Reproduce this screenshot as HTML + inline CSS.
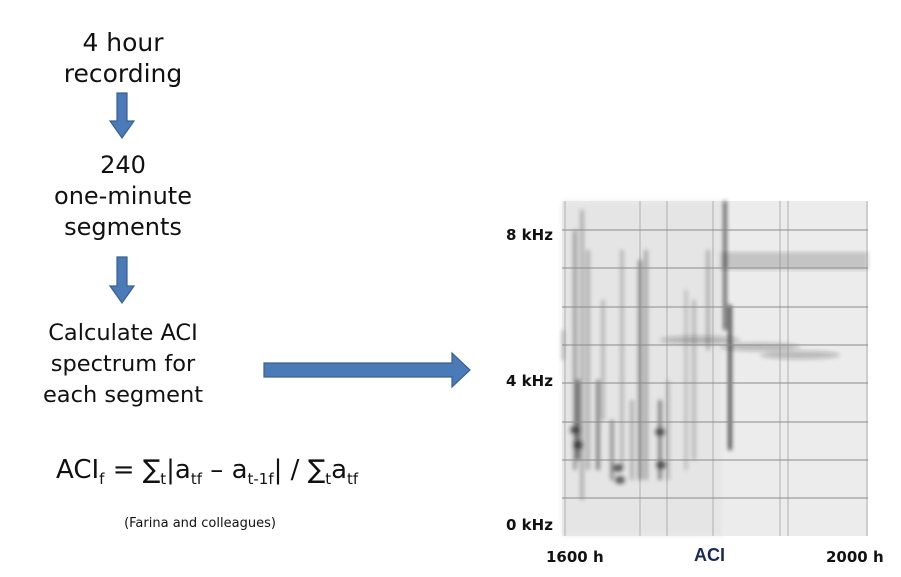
<!DOCTYPE html>
<html><head><meta charset="utf-8"><style>
body{margin:0;width:901px;height:577px;background:#fff;overflow:hidden;position:relative;font-family:"DejaVu Sans","Liberation Sans",sans-serif}
.t{position:absolute;text-align:center;font-size:25px;color:#111;line-height:31px;white-space:nowrap}
</style></head><body>
<div class="t" style="left:3px;top:27px;width:240px">4 hour<br>recording</div>
<div class="t" style="left:3px;top:150px;width:240px;font-size:24px">240<br>one-minute<br>segments</div>
<div class="t" style="left:3px;top:318px;width:240px;font-size:22.5px">Calculate ACI<br>spectrum for<br>each segment</div>
<div class="t" style="left:56px;top:455px;width:340px;text-align:left;font-size:26px">ACI<sub style="font-size:15px">f</sub> = ∑<sub style="font-size:15px">t</sub>|a<sub style="font-size:15px">tf</sub> – a<sub style="font-size:15px">t-1f</sub>| / ∑<sub style="font-size:15px">t</sub>a<sub style="font-size:15px">tf</sub></div>
<div class="t" style="left:100px;top:514px;width:200px;font-size:13px;line-height:20px">(Farina and colleagues)</div>
<svg width="901" height="577" style="position:absolute;left:0;top:0">
<defs><filter id="b" x="-100%" y="-10%" width="300%" height="120%"><feGaussianBlur stdDeviation="2.2"/></filter></defs>
<g fill="#4a7ab8" stroke="#3a5f8f" stroke-width="1.2">
<path d="M117 93h10v28h7l-12 17-12-17h7z"/>
<path d="M117 257h10v29h7l-12 17-12-17h7z"/>
<path d="M264 363h188v-10l18 17-18 17v-10H264z"/>
</g>
<g>
<rect x="562" y="201" width="306" height="335" fill="#ececec"/>
<rect x="718" y="252" width="150" height="18" fill="#c4c4c4" filter="url(#b)"/>
<rect x="562" y="201" width="160" height="335" fill="#e2e2e2" filter="url(#b)" opacity=".6"/>
<g id="streaks" filter="url(#b)"></g>
<g id="grid" stroke="#8a8a8a" stroke-width="1"></g>
</g>
<g font-family="DejaVu Sans,Liberation Sans,sans-serif" font-weight="bold" font-size="15" fill="#111">
<text x="506" y="240">8 kHz</text>
<text x="506" y="386">4 kHz</text>
<text x="506" y="530">0 kHz</text>
<text x="546" y="562">1600 h</text>
<text x="826" y="562">2000 h</text>
<text x="694" y="561" fill="#1a2a55" font-family="Liberation Sans,sans-serif" font-size="18">ACI</text>
</g>
</svg>
<script>
const streakX=[563,575,578,582,588,598,603,612,622,632,640,646,660,668,686,694,708,725,730];
const streakTop=[330,230,380,210,250,380,300,420,250,400,260,250,400,380,290,300,250,201,305];
const streakBot=[360,470,460,500,470,470,420,480,470,480,480,480,480,480,470,460,350,330,450];
const streakShade=[.25,.4,.6,.3,.3,.55,.25,.45,.25,.3,.5,.35,.55,.25,.2,.25,.3,.7,.85];
const hGrid=[230,268,307,345,383,422,460,498];
const vGrid=[565,640,667,713,780,788,867];
const ns='http://www.w3.org/2000/svg';
const s=document.getElementById('streaks');
for(let i=0;i<streakX.length;i++){const r=document.createElementNS(ns,'rect');


r.setAttribute('x',streakX[i]-1.5);r.setAttribute('y',streakTop[i]);r.setAttribute('width',3);r.setAttribute('height',streakBot[i]-streakTop[i]);
r.setAttribute('fill','#000');r.setAttribute('opacity',streakShade[i]);s.appendChild(r);}
const blobs=[[575,430],[578,445],[618,468],[620,480],[660,432],[661,465],[700,340],[760,347],[800,355]];
blobs.forEach(b=>{const e=document.createElementNS(ns,'ellipse');


e.setAttribute('cx',b[0]);e.setAttribute('cy',b[1]);e.setAttribute('rx',b[1]<400?40:5);e.setAttribute('ry',4);e.setAttribute('fill','#222');e.setAttribute('opacity',b[1]<400?.25:.7);s.appendChild(e);});
const g=document.getElementById('grid');
hGrid.forEach(y=>{const l=document.createElementNS(ns,'line');


l.setAttribute('x1',562);l.setAttribute('x2',868);l.setAttribute('y1',y);l.setAttribute('y2',y);g.appendChild(l);});
vGrid.forEach(x=>{const l=document.createElementNS(ns,'line');


l.setAttribute('x1',x);l.setAttribute('x2',x);l.setAttribute('y1',201);l.setAttribute('y2',536);l.setAttribute('opacity',.6);g.appendChild(l);});
</script>
</body></html>
